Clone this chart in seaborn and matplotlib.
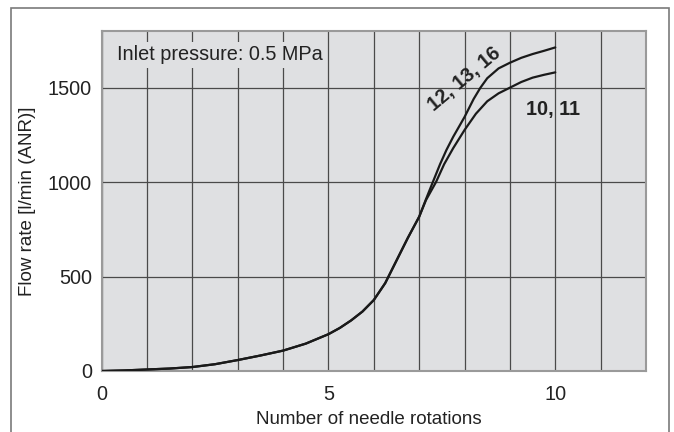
import matplotlib
matplotlib.use("Agg")
import matplotlib.pyplot as plt
import matplotlib.patches as mpatches
import seaborn as sns
import pandas as pd

# ---- data ----
common_x = [0, 0.5, 1, 1.5, 2, 2.5, 3, 3.5, 4, 4.5, 5, 5.25, 5.5, 5.75, 6, 6.25, 6.5, 6.75, 7]
common_y = [0, 3, 8, 13, 21, 36, 58, 82, 108, 145, 195, 228, 268, 315, 376, 465, 585, 705, 817]

upper_x = [7.15, 7.3, 7.46, 7.6, 7.75, 8.0, 8.2, 8.35, 8.5, 8.75, 9.0, 9.25, 9.5, 9.75, 10.0]
upper_y = [910, 1000, 1095, 1170, 1240, 1345, 1440, 1500, 1550, 1602, 1632, 1658, 1678, 1695, 1713]

lower_x = [7.15, 7.37, 7.55, 7.75, 8.0, 8.25, 8.5, 8.75, 9.0, 9.25, 9.5, 9.75, 10.0]
lower_y = [905, 1000, 1095, 1180, 1276, 1362, 1428, 1470, 1500, 1530, 1553, 1568, 1581]

series_names = ["12, 13, 16", "10, 11"]
x_ticks = list(range(0, 13))
x_ticklabels = ["0", "", "", "", "", "5", "", "", "", "", "10", "", ""]
y_ticks = [0, 500, 1000, 1500]

df = pd.concat([
    pd.DataFrame({"x": common_x + upper_x, "y": common_y + upper_y, "s": series_names[0]}),
    pd.DataFrame({"x": common_x + lower_x, "y": common_y + lower_y, "s": series_names[1]}),
], ignore_index=True)

sns.set_theme(style="white")
plt.rcParams["font.family"] = ["Liberation Sans", "DejaVu Sans"]

BG = "#dfe0e2"
TXT = "#222222"
FS = 14.3
FSL = 13.5

fig = plt.figure(figsize=(6.74, 4.32), dpi=100)
ax = fig.add_axes([101.7 / 674, 1 - 371 / 432, (646 - 101.7) / 674, (371 - 31) / 432])
ax.set_facecolor(BG)

sns.lineplot(data=df, x="x", y="y", hue="s", palette=["#1a1a1a", "#1a1a1a"],
             linewidth=1.6, legend=False, sort=False, ax=ax, zorder=4)

ax.set_xlim(0, 12)
ax.set_ylim(0, 1800)
ax.set_xticks(x_ticks)
ax.set_xticklabels(x_ticklabels)
ax.set_yticks(y_ticks)
ax.tick_params(axis="x", length=0, labelsize=FS, colors=TXT, pad=10)
ax.tick_params(axis="y", length=0, labelsize=FS, colors=TXT, pad=7)
ax.set_axisbelow(True)
ax.grid(True, color="#4a4a4a", linewidth=0.9)
for sp in ax.spines.values():
    sp.set_visible(True)
    sp.set_color("#9a9a9a")
    sp.set_linewidth(1.5)

ax.set_xlabel("Number of needle rotations", fontsize=FSL, color=TXT)
ax.set_ylabel("Flow rate [l/min (ANR)]", fontsize=FSL, color=TXT)
ax.xaxis.set_label_coords(0.49, (371 - 420) / 340)
ax.xaxis.label.set_va("center")
ax.yaxis.set_label_coords((27 - 101.7) / 544.3, 0.5)
ax.yaxis.label.set_va("center")

ax.text(0.34, 1673, "Inlet pressure: 0.5 MPa", fontsize=FS, color=TXT,
        va="center", ha="left", zorder=5,
        bbox=dict(boxstyle="square,pad=0.2", facecolor=BG, edgecolor="none"))

ax.text(7.99, 1545, series_names[0], fontsize=FS, fontweight="bold", color=TXT,
        rotation=40, ha="center", va="center", zorder=5)
ax.text(9.96, 1387, series_names[1], fontsize=FS, fontweight="bold", color=TXT,
        ha="center", va="center", zorder=5)

frame = mpatches.Rectangle((11 / 674, -0.02), (669 - 11) / 674, 1 - 8 / 432 + 0.02,
                           transform=fig.transFigure, fill=False,
                           edgecolor="#7a7a7a", linewidth=1.2, clip_on=False)
fig.patches.append(frame)

fig.savefig("out.png", dpi=100, facecolor="white")
